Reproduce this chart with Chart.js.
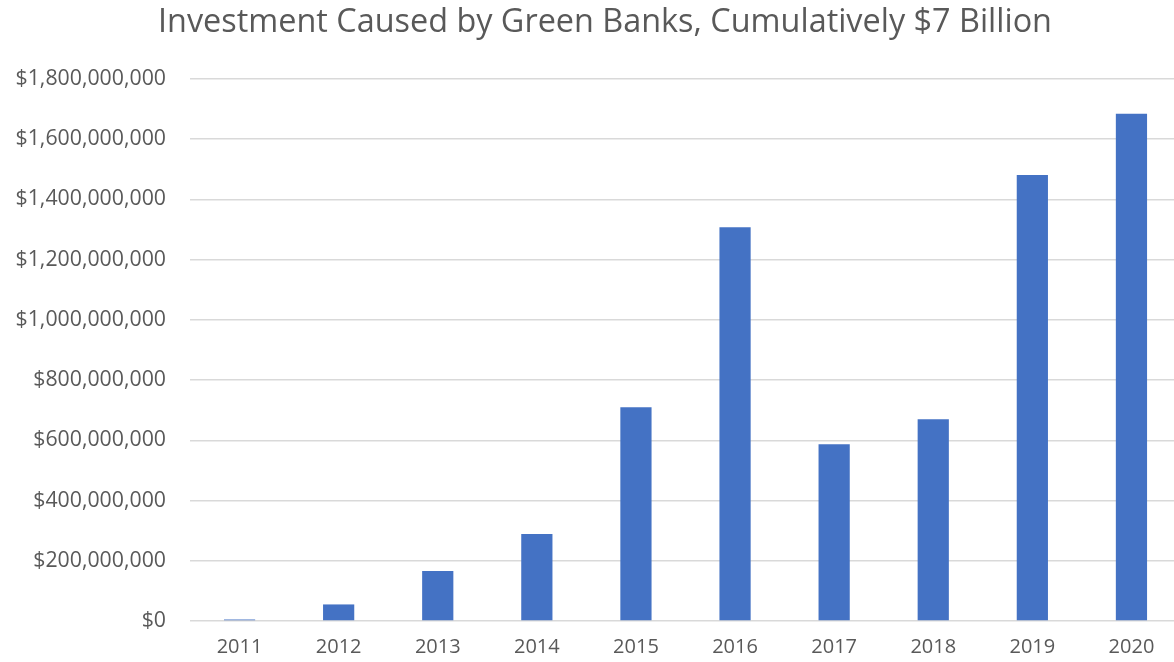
<!DOCTYPE html>
<html>
<head>
<meta charset="utf-8">
<script src="https://cdn.jsdelivr.net/npm/chart.js@4/dist/chart.umd.min.js"></script>
<style>
  html, body { margin: 0; padding: 0; background: #ffffff; overflow: hidden; }
  #marco { width: 1174px; height: 662px; overflow: hidden; }
  #wrap { width: 1181px; height: 662px; }
</style>
</head>
<body>
<div id="marco"><div id="wrap"><canvas id="grafico"></canvas></div></div>
<script>
const titulo = "Investment Caused by Green Banks, Cumulatively $7 Billion";
const anios = ["2011", "2012", "2013", "2014", "2015", "2016", "2017", "2018", "2019", "2020"];
const inversion = [5000000, 55000000, 166000000, 289000000, 710000000, 1307000000, 587000000, 670000000, 1481000000, 1684000000];
const ejeMax = 1800000000;
const ejePaso = 200000000;

const colorTexto = "#595959";
const colorGrid = "#d9d9d9";
const fuente = "'Open Sans', sans-serif";

function formatoDolar(v) {
    return "$" + Number(v).toLocaleString("en-US");
}

// el titulo de Excel queda un poco corrido a la derecha
const correrTitulo = {
    id: "correrTitulo",
    afterLayout(chart) {
        if (chart.titleBlock) {
            chart.titleBlock.left = 36;
            chart.titleBlock.right = 1174;
        }
    }
};

new Chart(document.getElementById("grafico"), {
    type: "bar",
    data: {
        labels: anios,
        datasets: [{
            label: "Investment",
            data: inversion,
            backgroundColor: "#4472C4",
            borderWidth: 0,
            categoryPercentage: 1,
            barPercentage: 0.315
        }]
    },
    options: {
        responsive: true,
        maintainAspectRatio: false,
        animation: false,
        layout: { padding: 0 },
        scales: {
            x: {
                grid: { display: false, drawTicks: false },
                border: { display: false },
                ticks: { color: colorTexto, font: { family: fuente, size: 20 }, padding: 14, maxRotation: 0 },
                afterFit: (s) => { s.height = 41; }
            },
            y: {
                min: 0,
                max: ejeMax,
                grid: { color: colorGrid, lineWidth: 1.5, drawTicks: false },
                border: { display: false },
                ticks: {
                    stepSize: ejePaso,
                    color: colorTexto,
                    font: { family: fuente, size: 21.3 },
                    padding: 24,
                    callback: (v) => formatoDolar(v)
                },
                afterFit: (s) => { s.width = 190; }
            }
        },
        plugins: {
            legend: { display: false },
            tooltip: { enabled: false },
            title: {
                display: true,
                text: titulo,
                color: colorTexto,
                font: { family: fuente, size: 32.4, weight: "normal" },
                padding: { top: 3, bottom: 37 }
            }
        }
    },
    plugins: [correrTitulo]
});
</script>
</body>
</html>
